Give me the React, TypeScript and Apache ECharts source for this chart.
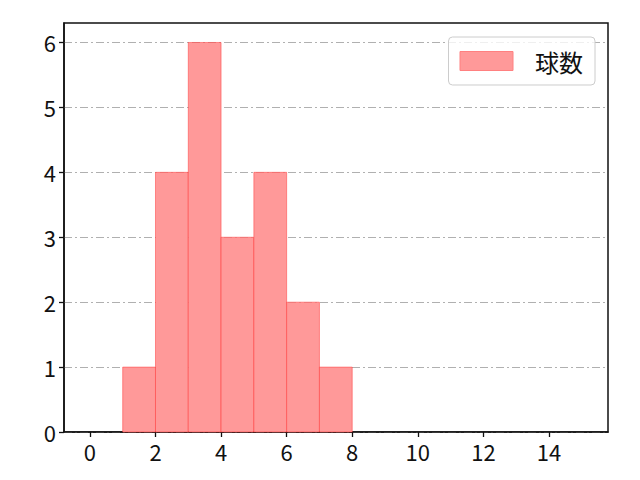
import { useEffect, useRef } from 'react';
import * as echarts from 'echarts';

// 階級の左端・右端と度数
const binStarts = [1, 2, 3, 4, 5, 6, 7];
const binEnds = [2, 3, 4, 5, 6, 7, 8];
const counts = [1, 4, 6, 3, 4, 2, 1];
const seriesName = '球数';
const xTicks = [0, 2, 4, 6, 8, 10, 12, 14];
const yTicks = [0, 1, 2, 3, 4, 5, 6];

const FONT = '"Noto Sans CJK JP", "Noto Sans", sans-serif';

export default function App() {
  const chartRef = useRef<HTMLDivElement>(null);

  useEffect(() => {
    if (!chartRef.current) return;
    const chart = echarts.init(chartRef.current, undefined, { renderer: 'svg' });

    const data = binStarts.map((s, i) => [s, binEnds[i], counts[i]]);

    const option: echarts.EChartsOption = {
      animation: false,
      backgroundColor: '#ffffff',
      textStyle: { fontFamily: FONT },
      grid: {
        left: 64,
        right: 32,
        top: 23,
        bottom: 48,
        show: true,
        borderColor: '#111111',
        borderWidth: 1.5,
        backgroundColor: 'transparent',
      },
      legend: {
        show: true,
        top: 37,
        right: 45,
        orient: 'vertical',
        itemWidth: 53,
        itemHeight: 19,
        itemGap: 0,
        padding: [12, 12, 12, 11],
        borderColor: '#cccccc',
        borderWidth: 1,
        borderRadius: 4,
        backgroundColor: 'rgba(255,255,255,0.8)',
        textStyle: { fontSize: 24, color: '#111111', fontFamily: FONT, padding: [0, 0, 0, 17] },
        data: [
          {
            name: seriesName,
            icon: 'rect',
            itemStyle: { color: '#ff9999', borderColor: '#ff8080', borderWidth: 1 },
          },
        ],
      },
      xAxis: {
        type: 'value',
        min: -0.79,
        max: 15.8,
        splitLine: { show: false },
        axisLine: { show: true, onZero: false, lineStyle: { color: '#111111', width: 1.5 } },
        axisTick: {
          show: true,
          length: 5,
          lineStyle: { color: '#111111', width: 1.3 },
          customValues: xTicks,
        },
        axisLabel: {
          fontSize: 22,
          color: '#111111',
          margin: 8,
          fontFamily: FONT,
          customValues: xTicks,
        },
      },
      yAxis: {
        type: 'value',
        min: 0,
        max: 6.3,
        interval: 1,
        splitLine: {
          show: true,
          lineStyle: { color: '#b0b0b0', width: 1, type: [8, 3, 2, 3] },
        },
        axisLine: { show: true, onZero: false, lineStyle: { color: '#111111', width: 1.5 } },
        axisTick: {
          show: true,
          length: 5,
          lineStyle: { color: '#111111', width: 1.3 },
          customValues: yTicks,
        },
        axisLabel: {
          fontSize: 22,
          color: '#111111',
          margin: 8,
          fontFamily: FONT,
          customValues: yTicks,
        },
      },
      series: [
        {
          name: seriesName,
          type: 'custom',
          data,
          itemStyle: { color: '#ff9999' },
          renderItem: (params: any, api: any) => {
            const x0 = api.value(0);
            const x1 = api.value(1);
            const h = api.value(2);
            const p0 = api.coord([x0, h]);
            const p1 = api.coord([x1, 0]);
            return {
              type: 'rect',
              shape: { x: p0[0], y: p0[1], width: p1[0] - p0[0], height: p1[1] - p0[1] },
              style: { fill: '#ff9999', stroke: 'rgba(255,40,40,0.45)', lineWidth: 1 },
            };
          },
          encode: { x: [0, 1], y: 2 },
        },
      ],
    };

    chart.setOption(option);

    return () => {
      chart.dispose();
    };
  }, []);

  return <div ref={chartRef} style={{ width: 640, height: 480, margin: -8 }} />;
}
